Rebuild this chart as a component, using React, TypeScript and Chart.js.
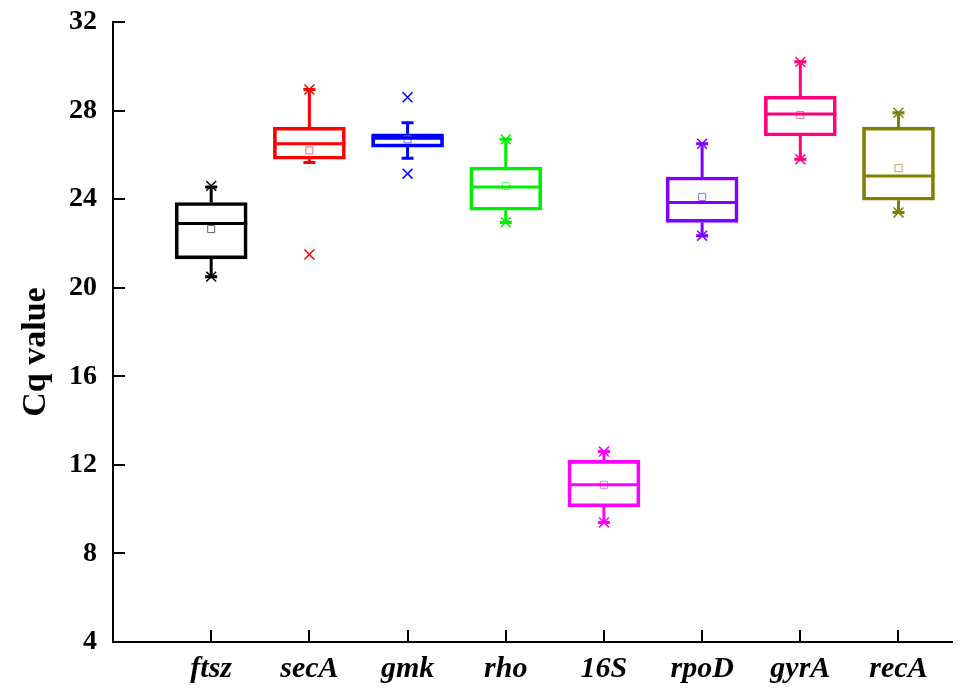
import React, { useEffect, useRef } from "react";
import { Chart, registerables } from "chart.js";

Chart.register(...registerables);

const genes = ["ftsz", "secA", "gmk", "rho", "16S", "rpoD", "gyrA", "recA"];
const colors = ["#000000", "#ff0000", "#0000ff", "#00ee00", "#ff00ff", "#8000ff", "#ff0080", "#808000"];
const meanColors = ["#666666", "#ff6666", "#6666ff", "#66ee66", "#ff66ff", "#a866ff", "#ff66aa", "#a8a860"];

const whiskerLow = [20.5, 25.65, 25.85, 22.95, 9.4, 22.35, 25.8, 23.4];
const q1 = [21.3, 25.8, 26.35, 23.5, 10.1, 22.95, 26.85, 23.95];
const median = [22.9, 26.5, 26.75, 24.55, 11.1, 23.85, 27.85, 25.05];
const q3 = [23.85, 27.25, 26.95, 25.45, 12.2, 25.0, 28.65, 27.25];
const whiskerHigh = [24.55, 28.95, 27.45, 26.7, 12.6, 26.5, 30.2, 27.9];
const mean = [22.65, 26.2, 26.7, 24.6, 11.1, 24.1, 27.8, 25.4];
const minVal = [20.5, 21.5, 25.15, 22.95, 9.4, 22.35, 25.8, 23.4];
const maxVal = [24.6, 28.95, 28.6, 26.7, 12.6, 26.5, 30.2, 27.9];

const yTicks = [4, 8, 12, 16, 20, 24, 28, 32];
const yTitle = "Cq value";

const FONT = '"Liberation Serif", "Times New Roman", serif';

const boxPlugin = {
  id: "boxExtras",
  afterDatasetsDraw(chart: any) {
    const ctx = chart.ctx;
    const y = chart.scales.y;
    const meta = chart.getDatasetMeta(0);
    ctx.save();
    meta.data.forEach((bar: any, i: number) => {
      const cx = bar.x;
      const half = bar.width / 2;
      ctx.strokeStyle = colors[i];
      ctx.lineWidth = 3;
      ctx.lineCap = "butt";
      const ym = y.getPixelForValue(median[i]);
      ctx.beginPath();
      ctx.moveTo(cx - half, ym);
      ctx.lineTo(cx + half, ym);
      ctx.stroke();
      const yq3 = y.getPixelForValue(q3[i]);
      const yq1 = y.getPixelForValue(q1[i]);
      const yh = y.getPixelForValue(whiskerHigh[i]);
      const yl = y.getPixelForValue(whiskerLow[i]);
      ctx.beginPath();
      ctx.moveTo(cx, yq3);
      ctx.lineTo(cx, yh);
      ctx.moveTo(cx, yq1);
      ctx.lineTo(cx, yl);
      ctx.stroke();
      ctx.beginPath();
      ctx.moveTo(cx - 6, yh);
      ctx.lineTo(cx + 6, yh);
      ctx.moveTo(cx - 6, yl);
      ctx.lineTo(cx + 6, yl);
      ctx.stroke();
    });
    ctx.restore();
  },
  afterDraw(chart: any) {
    const ctx = chart.ctx;
    const { left, bottom } = chart.chartArea;
    const x = chart.scales.x;
    const y = chart.scales.y;
    ctx.save();
    ctx.strokeStyle = "#000";
    ctx.lineWidth = 2;
    ctx.beginPath();
    y.ticks.forEach((t: any) => {
      const py = Math.round(y.getPixelForValue(t.value));
      ctx.moveTo(left, py);
      ctx.lineTo(left + 12, py);
    });
    x.ticks.forEach((t: any) => {
      const px = Math.round(x.getPixelForValue(t.value));
      ctx.moveTo(px, bottom);
      ctx.lineTo(px, bottom - 12);
    });
    ctx.stroke();
    ctx.translate(36, 352);
    ctx.rotate(-Math.PI / 2);
    ctx.fillStyle = "#000";
    ctx.font = `bold 34px ${FONT}`;
    ctx.textAlign = "center";
    ctx.textBaseline = "middle";
    ctx.fillText(yTitle, 0, 0);
    ctx.restore();
  },
};

export default function App() {
  const ref = useRef<HTMLCanvasElement | null>(null);

  useEffect(() => {
    if (!ref.current) return;
    const chart = new Chart(ref.current, {
      type: "bar",
      data: {
        datasets: [
          {
            type: "bar",
            data: genes.map((_, i) => ({ x: i + 1, y: [q1[i], q3[i]] })) as any,
            backgroundColor: "rgba(0,0,0,0)",
            borderColor: colors,
            borderWidth: 3,
            borderSkipped: false,
            barThickness: 72,
            order: 3,
          } as any,
          {
            type: "scatter",
            data: genes.map((_, i) => ({ x: i + 1, y: mean[i] })),
            pointStyle: "rect",
            pointRadius: 5,
            borderWidth: 1,
            borderColor: meanColors,
            backgroundColor: "rgba(0,0,0,0)",
            order: 2,
          } as any,
          {
            type: "scatter",
            data: genes.map((_, i) => ({ x: i + 1, y: minVal[i] })),
            pointStyle: "crossRot",
            pointRadius: 7,
            borderWidth: 1.5,
            borderColor: colors,
            order: 1,
          } as any,
          {
            type: "scatter",
            data: genes.map((_, i) => ({ x: i + 1, y: maxVal[i] })),
            pointStyle: "crossRot",
            pointRadius: 7,
            borderWidth: 1.5,
            borderColor: colors,
            order: 1,
          } as any,
        ],
      },
      options: {
        animation: false,
        responsive: false,
        events: [],
        layout: { padding: { top: 22, right: 7, left: 0, bottom: 0 } },
        plugins: { legend: { display: false }, tooltip: { enabled: false } },
        scales: {
          x: {
            type: "linear",
            min: 0,
            max: 8.55,
            offset: false,
            grid: { display: false, drawTicks: false, offset: false },
            border: { display: true, color: "#000", width: 2 },
            afterBuildTicks: (s: any) => {
              s.ticks = genes.map((_, i) => ({ value: i + 1 }));
            },
            afterFit: (s: any) => {
              s.height = 48;
              s.paddingLeft = 0;
              s.paddingRight = 0;
            },
            ticks: {
              autoSkip: false,
              maxRotation: 0,
              padding: 9,
              color: "#000",
              font: { family: FONT, size: 30, weight: "bold", style: "italic" },
              callback: (v: any) => genes[Math.round(v) - 1] ?? "",
            },
          },
          y: {
            type: "linear",
            min: 4,
            max: 32,
            grid: { display: false, drawTicks: false },
            border: { display: true, color: "#000", width: 2 },
            afterBuildTicks: (s: any) => {
              s.ticks = yTicks.map((v) => ({ value: v }));
            },
            afterFit: (s: any) => {
              s.width = 113;
              s.paddingTop = 0;
              s.paddingBottom = 0;
            },
            ticks: {
              padding: 16,
              color: "#000",
              font: { family: FONT, size: 28, weight: "bold" },
            },
          },
        },
      } as any,
      plugins: [boxPlugin],
    });
    return () => chart.destroy();
  }, []);

  return (
    <div style={{ position: "fixed", left: 0, top: 0, width: 961, height: 690, background: "#fff" }}>
      <canvas ref={ref} width={961} height={690} style={{ display: "block" }} />
    </div>
  );
}
